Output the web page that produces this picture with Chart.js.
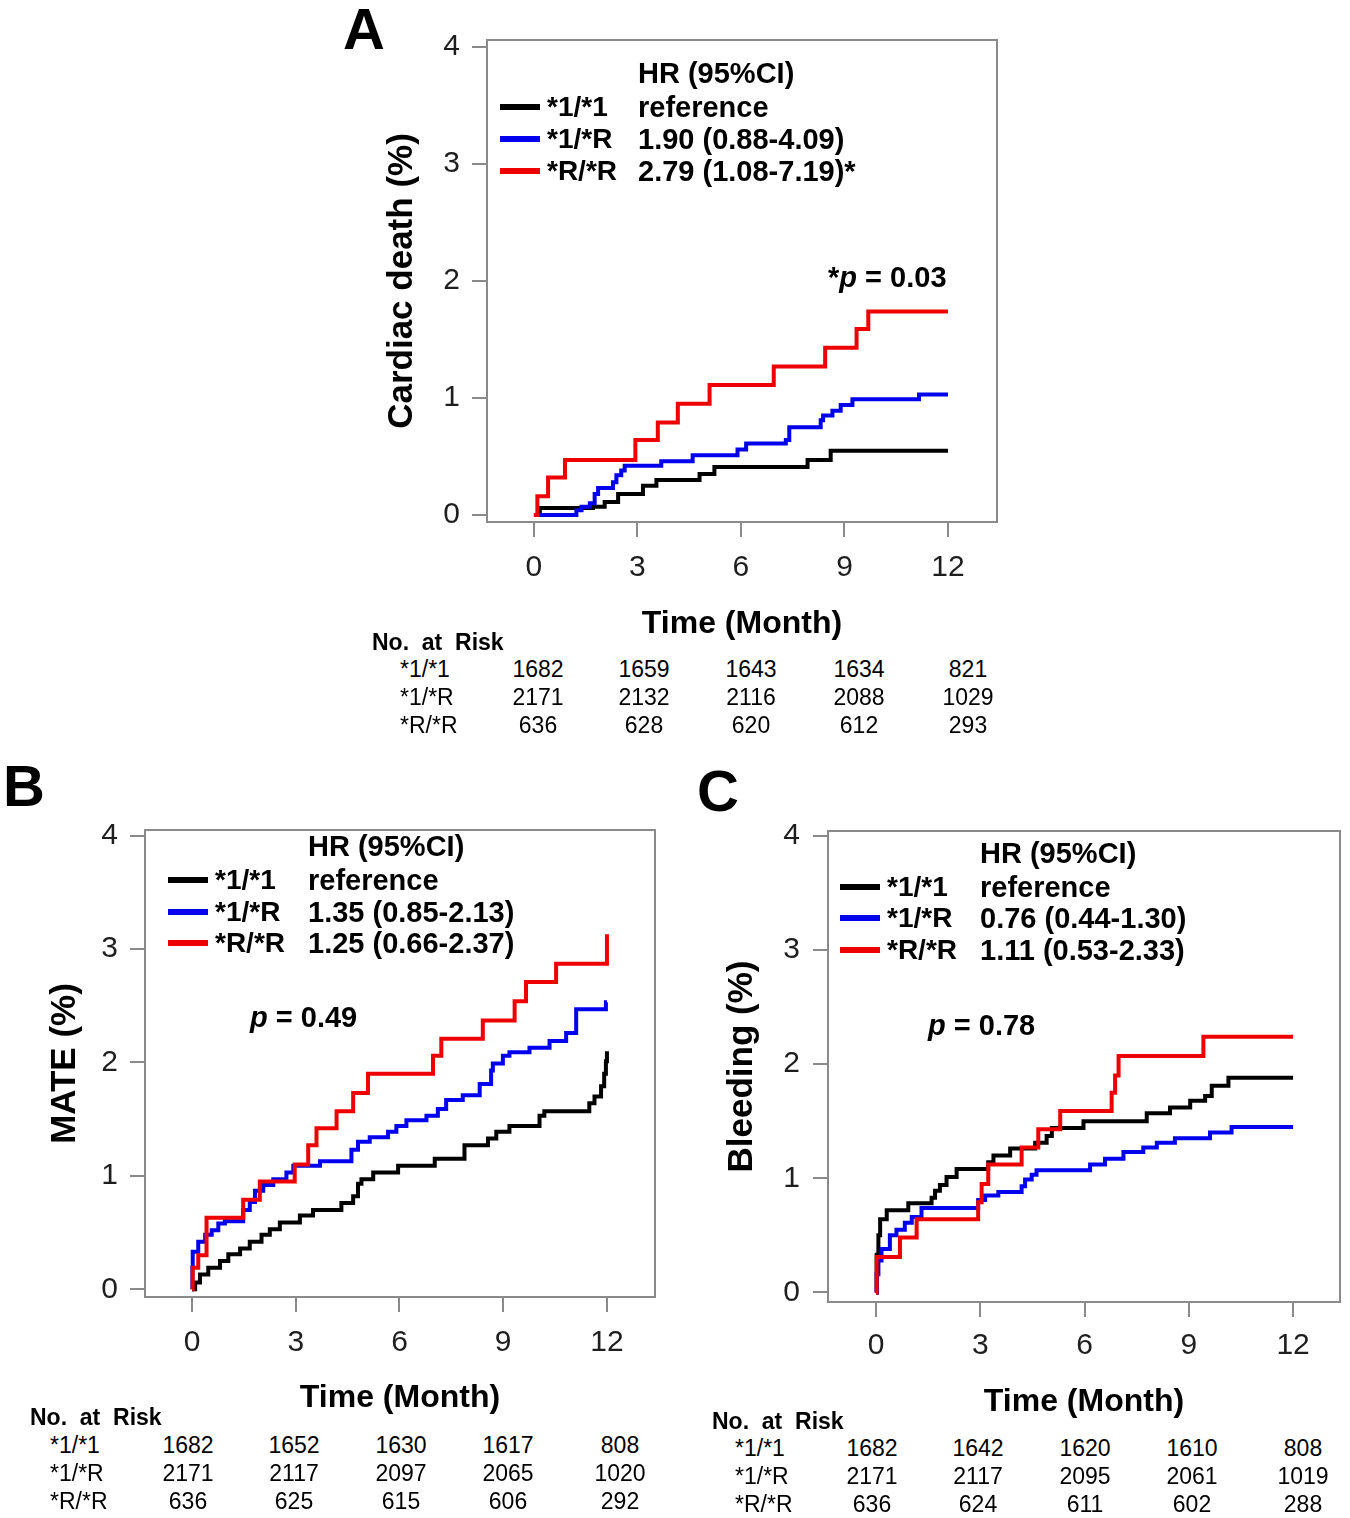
<!DOCTYPE html>
<html>
<head>
<meta charset="utf-8">
<script src="https://cdn.jsdelivr.net/npm/chart.js@4.4.0/dist/chart.umd.min.js"></script>
<style>
body { margin: 0; background: #fff; width: 1350px; height: 1518px; position: relative; overflow: hidden;
       font-family: "Liberation Sans", Arial, sans-serif; }
canvas { position: absolute; }
.t { position: absolute; white-space: pre; color: #000; }
.sw { position: absolute; width: 40px; height: 6px; }
</style>
</head>
<body>
<canvas id="cA" width="640" height="650" style="left:370px;top:0px"></canvas>
<canvas id="cB" width="640" height="625" style="left:30px;top:800px"></canvas>
<canvas id="cC" width="640" height="630" style="left:710px;top:800px"></canvas>
<script>
// groups and colours
const groups = ['*1/*1', '*1/*R', '*R/*R'];
const colors = ['#000000', '#0000ee', '#ee0000'];
const monthTicks = [0, 3, 6, 9, 12];
const pctTicks = [0, 1, 2, 3, 4];

// A: cardiac death, cumulative %
const aTime11 = [0, 0.17, 1.71, 2.05, 2.44, 3.16, 3.55, 4.8, 5.23, 7.93, 8.6, 12];
const aPct11  = [0, 0.06, 0.07, 0.11, 0.18, 0.25, 0.30, 0.35, 0.41, 0.47, 0.55, 0.55];
const aTime1R = [0, 1.23, 1.38, 1.62, 1.76, 1.86, 2.29, 2.39, 2.53, 2.63, 3.69, 4.6, 5.9, 6.15, 7.3, 7.4, 8.31, 8.38, 8.65, 8.89, 9.23, 11.16, 12];
const aPct1R  = [0, 0.04, 0.07, 0.10, 0.18, 0.23, 0.28, 0.34, 0.38, 0.42, 0.46, 0.51, 0.56, 0.61, 0.64, 0.75, 0.81, 0.85, 0.89, 0.94, 0.99, 1.03, 1.03];
const aTimeRR = [0, 0.1, 0.41, 0.9, 2.94, 3.59, 4.17, 5.09, 6.95, 8.44, 9.35, 9.69, 12];
const aPctRR  = [0, 0.16, 0.32, 0.47, 0.64, 0.79, 0.95, 1.11, 1.27, 1.43, 1.59, 1.74, 1.74];

// B: MATE
const bTime11 = [0, 0.09, 0.23, 0.47, 0.81, 1.05, 1.39, 1.67, 2.01, 2.25, 2.54, 3.12, 3.5, 4.32, 4.66, 4.8, 4.9, 5.24, 5.96, 7.02, 7.88, 8.56, 8.8, 9.18, 10.05, 10.19, 11.49, 11.64, 11.83, 11.92, 11.97, 12];
const bPct11  = [0, 0.06, 0.13, 0.19, 0.25, 0.31, 0.36, 0.42, 0.48, 0.53, 0.59, 0.65, 0.70, 0.76, 0.82, 0.93, 0.97, 1.03, 1.09, 1.15, 1.27, 1.33, 1.39, 1.44, 1.53, 1.57, 1.64, 1.70, 1.79, 1.90, 2.01, 2.10];
const bTime1R = [0, 0.01, 0.02, 0.18, 0.38, 0.57, 0.76, 0.95, 1.48, 1.67, 1.82, 2.06, 2.35, 2.73, 2.93, 3.7, 4.61, 4.8, 5.14, 5.67, 5.91, 6.2, 6.78, 7.11, 7.35, 7.83, 8.32, 8.65, 8.7, 8.99, 9.18, 9.76, 10.34, 10.82, 11.11, 11.97, 12];
const bPct1R  = [0, 0.19, 0.33, 0.42, 0.48, 0.52, 0.58, 0.60, 0.70, 0.77, 0.87, 0.92, 0.97, 1.03, 1.09, 1.13, 1.23, 1.30, 1.34, 1.39, 1.44, 1.49, 1.53, 1.59, 1.67, 1.71, 1.81, 1.93, 1.99, 2.06, 2.09, 2.13, 2.19, 2.26, 2.47, 2.53, 2.53];
const bTimeRR = [0, 0.02, 0.18, 0.42, 1.48, 1.96, 2.97, 3.36, 3.6, 4.18, 4.66, 5.09, 6.97, 7.21, 8.41, 9.33, 9.66, 10.53, 12];
const bPctRR  = [0, 0.19, 0.30, 0.63, 0.79, 0.95, 1.10, 1.27, 1.42, 1.57, 1.73, 1.90, 2.06, 2.21, 2.37, 2.54, 2.71, 2.87, 3.13];

// C: bleeding
const cTime11 = [0, 0.02, 0.07, 0.12, 0.31, 0.93, 1.6, 1.7, 1.84, 2.03, 2.32, 3.23, 3.38, 3.86, 4.58, 4.91, 5.06, 5.97, 7.79, 8.46, 9.04, 9.47, 9.66, 10.14, 12];
const cPct11  = [0, 0.33, 0.50, 0.64, 0.72, 0.78, 0.83, 0.89, 0.94, 1.01, 1.08, 1.14, 1.20, 1.26, 1.31, 1.37, 1.44, 1.50, 1.57, 1.62, 1.68, 1.72, 1.81, 1.88, 1.88];
const cTime1R = [0, 0.02, 0.07, 0.16, 0.4, 0.59, 0.83, 1.03, 1.31, 2.94, 3.14, 3.52, 4.19, 4.29, 4.48, 4.62, 6.16, 6.59, 7.12, 7.69, 8.08, 8.6, 9.61, 10.23, 12];
const cPct1R  = [0, 0.16, 0.28, 0.38, 0.50, 0.55, 0.61, 0.66, 0.74, 0.81, 0.85, 0.88, 0.93, 0.99, 1.03, 1.07, 1.12, 1.17, 1.23, 1.27, 1.31, 1.35, 1.40, 1.45, 1.45];
const cTimeRR = [0, 0.02, 0.69, 1.17, 2.94, 3.04, 3.23, 4.19, 4.67, 5.3, 6.78, 6.88, 6.98, 9.42, 12];
const cPctRR  = [0, 0.31, 0.48, 0.64, 0.79, 0.95, 1.12, 1.27, 1.43, 1.59, 1.75, 1.90, 2.07, 2.24, 2.24];

// hazard ratios
const hrA = ['reference', '1.90 (0.88-4.09)', '2.79 (1.08-7.19)*'];
const hrB = ['reference', '1.35 (0.85-2.13)', '1.25 (0.66-2.37)'];
const hrC = ['reference', '0.76 (0.44-1.30)', '1.11 (0.53-2.33)'];

// numbers at risk
const riskA11 = [1682, 1659, 1643, 1634, 821];
const riskA1R = [2171, 2132, 2116, 2088, 1029];
const riskARR = [636, 628, 620, 612, 293];
const riskB11 = [1682, 1652, 1630, 1617, 808];
const riskB1R = [2171, 2117, 2097, 2065, 1020];
const riskBRR = [636, 625, 615, 606, 292];
const riskC11 = [1682, 1642, 1620, 1610, 808];
const riskC1R = [2171, 2117, 2095, 2061, 1019];
const riskCRR = [636, 624, 611, 602, 288];

const FONT = '"Liberation Sans", Arial, sans-serif';

const boxPlugin = {
  id: 'box',
  afterDatasetsDraw(chart) {
    const { ctx, chartArea: a } = chart;
    ctx.save();
    ctx.strokeStyle = '#8a8a8a';
    ctx.lineWidth = 2;
    ctx.strokeRect(a.left, a.top, a.right - a.left, a.bottom - a.top);
    ctx.restore();
  }
};

function series(times, vals, i) {
  return {
    label: groups[i],
    data: times.map((t, k) => ({ x: t, y: vals[k] })),
    borderColor: colors[i],
    borderWidth: 4,
    pointRadius: 0,
    stepped: 'before',
    fill: false,
    order: 3 - i
  };
}

function makePanel(id, sets, p) {
  new Chart(document.getElementById(id), {
    type: 'line',
    data: { datasets: sets },
    plugins: [boxPlugin],
    options: {
      responsive: false,
      animation: false,
      layout: { padding: { left: 0, top: p.padTop, right: p.padRight, bottom: 0 } },
      plugins: { legend: { display: false }, tooltip: { enabled: false } },
      scales: {
        x: {
          type: 'linear', min: p.xMin, max: p.xMax,
          afterBuildTicks: s => { s.ticks = monthTicks.map(v => ({ value: v })); },
          afterFit: s => { s.height = 128; },
          grid: { drawOnChartArea: false, tickLength: 15, color: '#8a8a8a', lineWidth: 2 },
          border: { display: false },
          ticks: { color: '#1e1e1e', font: { size: 30, family: FONT }, padding: p.xPad, maxRotation: 0, autoSkip: false },
          title: { display: true, text: 'Time (Month)', color: '#000', font: { size: 32, weight: 'bold', family: FONT },
                   padding: { top: 0, bottom: p.xTitlePad } }
        },
        y: {
          type: 'linear', min: p.yMin, max: p.yMax,
          afterBuildTicks: s => { s.ticks = pctTicks.map(v => ({ value: v })); },
          afterFit: s => { s.width = p.yWidth; },
          grid: { drawOnChartArea: false, tickLength: 15, color: '#8a8a8a', lineWidth: 2 },
          border: { display: false },
          ticks: { color: '#1e1e1e', font: { size: 30, family: FONT }, padding: p.yPad, autoSkip: false },
          title: { display: true, text: p.yTitle, color: '#000', font: { size: 35, weight: 'bold', family: FONT },
                   padding: { top: p.yTitlePad, bottom: 0 } }
        }
      }
    }
  });
}

makePanel('cA', [series(aTime11, aPct11, 0), series(aTime1R, aPct1R, 1), series(aTimeRR, aPctRR, 2)],
  { padTop: 40, padRight: 13, xMin: -1.36, xMax: 13.42, yMin: -0.06, yMax: 4.06,
    yWidth: 117, xPad: 13, yPad: 12, xTitlePad: 7, yTitlePad: 11, yTitle: 'Cardiac death (%)' });
makePanel('cB', [series(bTime11, bPct11, 0), series(bTime1R, bPct1R, 1), series(bTimeRR, bPctRR, 2)],
  { padTop: 15, padRight: 15, xMin: -1.36, xMax: 13.39, yMin: -0.068, yMax: 4.05,
    yWidth: 115, xPad: 13, yPad: 12, xTitlePad: 8, yTitlePad: 14, yTitle: 'MATE (%)' });
makePanel('cC', [series(cTime11, cPct11, 0), series(cTime1R, cPct1R, 1), series(cTimeRR, cPctRR, 2)],
  { padTop: 12, padRight: 10, xMin: -1.38, xMax: 13.35, yMin: -0.084, yMax: 4.042,
    yWidth: 118, xPad: 11, yPad: 13, xTitlePad: 9, yTitlePad: 11, yTitle: 'Bleeding (%)' });

// text overlays
function text(x, cy, str, size, bold, extra) {
  const d = document.createElement('div');
  d.className = 't';
  const lh = Math.round(size * 1.15);
  d.style.left = x + 'px';
  d.style.top = (cy - lh / 2) + 'px';
  d.style.fontSize = size + 'px';
  d.style.lineHeight = lh + 'px';
  d.style.fontWeight = bold ? 'bold' : 'normal';
  if (extra) Object.assign(d.style, extra);
  d.innerHTML = str;
  document.body.appendChild(d);
  return d;
}

function legend(p, hr) {
  text(p.valX, p.headY, 'HR (95%CI)', 29, true);
  p.rows.forEach((cy, i) => {
    const s = document.createElement('div');
    s.className = 'sw';
    s.style.left = p.swX + 'px';
    s.style.top = (cy - 3) + 'px';
    s.style.background = colors[i];
    document.body.appendChild(s);
    text(p.swX + 47, cy, groups[i], 28, true);
    text(p.valX, cy, hr[i], 29, true);
  });
}

function riskTable(p, rows) {
  text(p.headX, p.headY, 'No.  at  Risk', 23, true);
  rows.forEach((vals, i) => {
    const cy = p.rowY[i];
    text(p.labX, cy, groups[i], 23, false);
    vals.forEach((v, k) => {
      text(p.cols[k] - 40, cy, String(v), 23, false, { width: '80px', textAlign: 'center' });
    });
  });
}

text(343, 28, 'A', 58, true);
text(3, 785, 'B', 58, true);
text(697, 790, 'C', 58, true);

legend({ swX: 500, valX: 638, headY: 73, rows: [107, 139, 171] }, hrA);
legend({ swX: 168, valX: 308, headY: 846, rows: [880, 912, 943] }, hrB);
legend({ swX: 840, valX: 980, headY: 853, rows: [887, 918, 950] }, hrC);

text(828, 277, '*<i>p</i> = 0.03', 29, true);
text(250, 1017, '<i>p</i> = 0.49', 29, true);
text(928, 1025, '<i>p</i> = 0.78', 29, true);

riskTable({ headX: 372, headY: 642, labX: 400, rowY: [669, 697, 725], cols: [538, 644, 751, 859, 968] },
  [riskA11, riskA1R, riskARR]);
riskTable({ headX: 30, headY: 1417, labX: 50, rowY: [1445, 1473, 1501], cols: [188, 294, 401, 508, 620] },
  [riskB11, riskB1R, riskBRR]);
riskTable({ headX: 712, headY: 1421, labX: 735, rowY: [1448, 1476, 1504], cols: [872, 978, 1085, 1192, 1303] },
  [riskC11, riskC1R, riskCRR]);
</script>
</body>
</html>
